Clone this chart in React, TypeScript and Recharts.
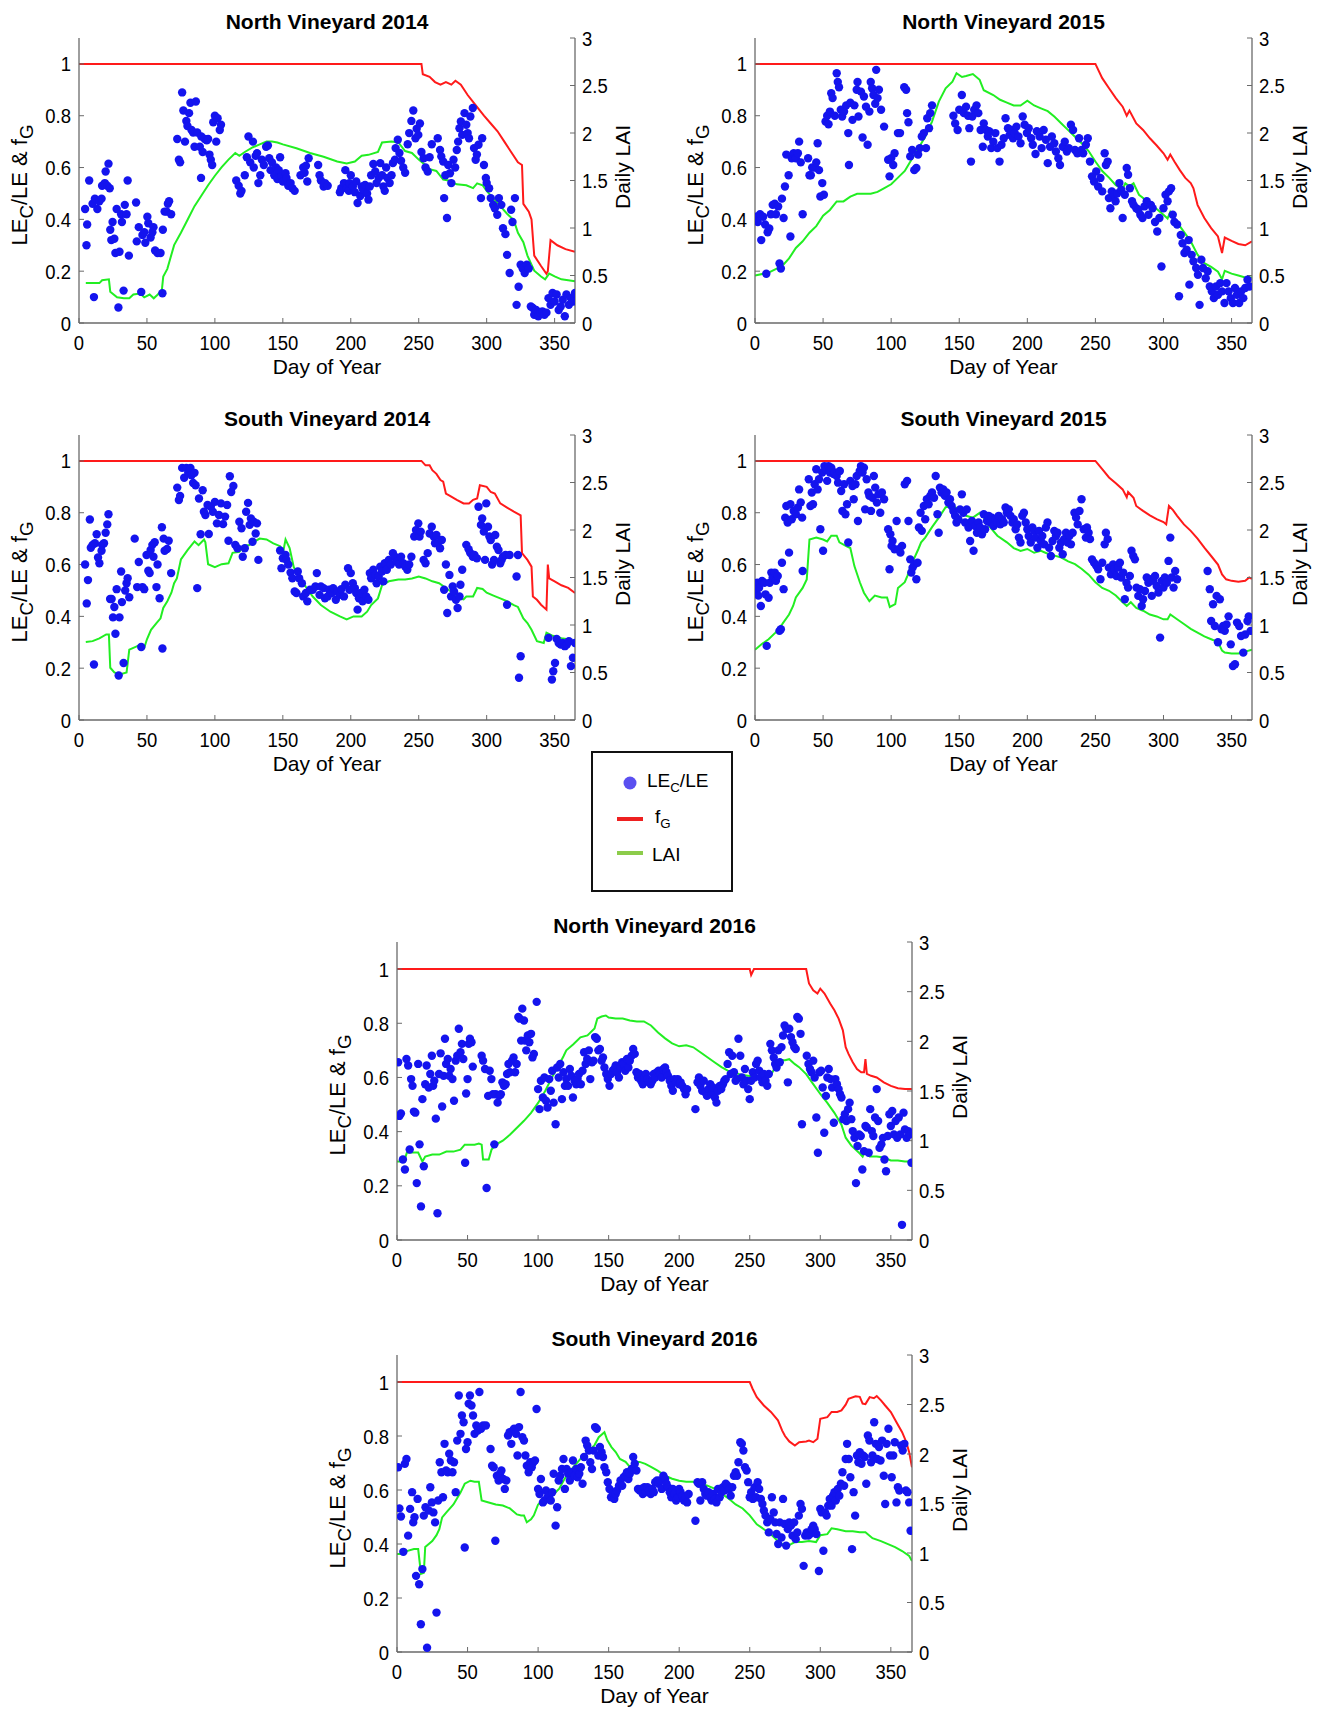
import React from 'react';
import { ComposedChart, Scatter, Line, XAxis, YAxis } from 'recharts';

type P = [number, number];

const dayTicks = [0, 50, 100, 150, 200, 250, 300, 350];
const leftTicks = [0, 0.2, 0.4, 0.6, 0.8, 1];
const rightTicks = [0, 0.5, 1, 1.5, 2, 2.5, 3];

// ---------------- North Vineyard 2014 ----------------
const nv14Ratio: P[] = [
  [4.5,.44],[6,.38],[5.5,.30],[7.5,.55],[10,.46],[11,.10],[11.7,.48],[13.5,.44],[15,.47],[16.6,.48],[17,.53],[19,.54],[19.6,.585],[20.8,.53],[21.7,.615],[22.6,.52],[23,.36],[24.7,.39],[23.8,.32],[26,.325],[26.8,.27],[27.7,.44],[29,.06],[29.8,.275],[31,.42],[31.6,.39],[32.8,.125],[33.7,.456],[35,.42],[35.8,.55],[36.7,.26],[42,.465],[42.5,.315],[44,.37],[45.8,.12],[46.7,.34],[48,.35],[48.8,.31],[50.3,.41],[51,.385],[52.7,.33],[54,.35],[54.8,.37],[56,.28],[57.8,.27],[60,.27],[61.4,.115],[61.7,.36],[63,.43],[64.5,.43],[65.4,.46],[66.3,.47],[67.8,.42],
  [72.3,.71],[73.5,.63],[74.4,.62],[75.9,.89],[76.8,.82],[78,.70],[79,.78],[79.8,.76],[81,.81],[82,.85],[82.8,.745],[84,.735],[85,.68],[86,.855],[87,.735],[88.9,.68],[89.8,.56],[90,.72],[91,.66],[92.5,.71],[94,.705],[95,.71],[96,.65],[97,.63],[98,.61],[98.8,.775],[100,.80],[101,.70],[102,.79],[103.6,.745],[104.5,.765],
  [115.7,.55],[117.5,.53],[118.7,.50],[119.6,.51],[122,.57],[123.5,.64],[124.7,.72],[126,.62],[128,.70],[128.6,.60],[130,.645],[131,.655],[132,.54],[133.4,.57],[134.6,.63],[136,.61],[137.7,.68],[139,.685],[140,.636],[141,.59],[142,.62],[143.7,.57],[145,.60],[146,.556],[147,.59],[148,.64],[149,.566],[150,.546],[152,.578],[152.7,.56],[154,.53],[155.7,.54],[157,.52],[158.7,.51],[163,.57],[165,.60],[166,.58],[167,.607],[168,.546],[169,.636],[176,.61],[177,.57],[178,.55],[180,.527],[181,.54],[183,.53],
  [192,.505],[193,.52],[195,.54],[196,.59],[197,.52],[198.5,.51],[199,.54],[200,.57],[201.5,.527],[203,.505],[204,.546],[205,.463],[207,.49],[208,.527],[209,.514],[210.5,.533],[212,.50],[213,.476],[214,.527],[215,.57],[216.6,.614],[218,.585],[219,.54],[220.5,.56],[221.7,.617],[223,.57],[224,.527],[225,.51],[226,.60],[227,.56],[228.6,.54],[230,.57],[231,.617],[232.5,.63],[233,.675],[234.6,.707],[235.8,.656],[237,.626],[238.6,.60],[240,.58],[241.9,.69],[243,.733],[244.6,.78],[246,.82],[247.6,.713],[248.5,.75],[249.7,.726],[250.9,.77],[252,.66],[253.6,.636],[255,.60],[256.6,.585],[258,.64],[259.6,.69],
  [264,.713],[265.7,.668],[266.6,.643],[268,.623],[268.7,.482],[269.6,.57],[270.8,.405],[271.7,.61],[273,.578],[274,.54],[275.6,.63],[276.8,.60],[278,.668],[279,.70],[280,.752],[281,.778],[282,.726],[283.7,.81],[285,.765],[286,.733],[287,.713],[288,.797],[289.8,.83],[290.7,.675],[291.9,.63],[292.8,.65],[294,.688],[295.8,.482],[296.7,.713],[298,.61],[299.4,.56],[300,.54],[301.8,.52],[303,.482],[304.8,.456],[306,.443],[307.8,.418],[309,.482],[310.8,.456],[312,.366],[313.8,.343],[315,.263],[316.9,.193],[318,.437],[319,.39],[320.8,.482],[322,.07],[323.5,.14],[325,.225],[326.5,.21],[328,.193],[329.5,.225],[331,.21],[332.5,.064],[334,.058],[335,.032],[336.4,.05],[338,.026],[339.5,.04],[341,.045],[342.5,.032],[344,.04],[345.5,.096],[347,.07],[348.5,.116],[350,.083],[351.5,.11],[353,.05],[354.5,.064],[356,.09],[357.5,.026],[358.7,.11],[360.5,.07],[362,.096],[363.5,.083],[365,.116]
];
const nv14Fg: P[] = [[0,1],[252,1],[253,.96],[258,.95],[262,.93],[266,.92],[270,.93],[274,.92],[277,.935],[281,.92],[286,.88],[292,.84],[298,.80],[303,.77],[308,.74],[313,.70],[318,.66],[323,.62],[326,.61],[327,.46],[331,.43],[333,.40],[335,.26],[340,.22],[344,.19],[345,.20],[347,.32],[352,.30],[358,.285],[365,.275]];
const nv14Lai: P[] = [[5,.42],[15,.42],[17,.45],[22,.46],[23,.33],[28,.27],[33,.26],[37,.26],[40,.30],[45,.31],[48,.27],[52,.30],[55,.26],[58,.30],[61,.35],[62,.49],[65,.57],[70,.82],[75,.95],[80,1.09],[85,1.23],[90,1.34],[95,1.45],[100,1.55],[105,1.64],[110,1.72],[115,1.79],[118,1.76],[122,1.80],[128,1.85],[133,1.88],[138,1.91],[142,1.91],[146,1.90],[150,1.88],[160,1.84],[170,1.79],[180,1.75],[190,1.70],[197,1.68],[203,1.70],[208,1.76],[213,1.77],[220,1.80],[223,1.90],[230,1.91],[235,1.90],[240,1.81],[245,1.79],[250,1.72],[255,1.66],[258,1.62],[263,1.60],[268,1.51],[272,1.50],[278,1.46],[285,1.45],[290,1.42],[293,1.47],[297,1.45],[300,1.39],[305,1.31],[310,1.23],[315,1.15],[320,1.08],[323,.95],[327,.85],[330,.71],[335,.55],[340,.49],[343,.46],[346,.52],[350,.49],[355,.46],[360,.45],[365,.44]];

// ---------------- North Vineyard 2015 ----------------
const nv15Ratio: P[] = [
  [0.6,.41],[2,.39],[3.7,.42],[4.6,.32],[6,.41],[7.4,.38],[8.3,.19],[9.3,.35],[10.5,.365],[11.7,.42],[13,.456],[14.5,.46],[15.4,.42],[17,.45],[18,.23],[19,.21],[19.8,.48],[21,.405],[22,.527],[23,.65],[24.7,.57],[26,.334],[27,.636],[28.4,.655],[30,.636],[31.5,.655],[32.4,.70],[33.6,.62],[35,.42],[39,.636],[40,.57],[41,.57],[42,.60],[43.8,.60],[45,.62],[46,.694],[47,.59],[48,.488],[49.4,.54],[50.6,.495],[51.8,.778],[53,.80],[54,.767],[55,.816],[56,.887],[57,.868],[58.6,.80],[60,.964],[60.8,.93],[61.7,.91],[63,.823],[64,.797],[65.4,.816],[67,.84],[68.5,.733],[69,.61],[70,.85],[71.6,.784],[73,.84],[74.7,.90],[75.3,.93],[76,.797],[77.8,.893],[79,.716],[80,.874],[81.5,.835],[82.7,.688],[84,.816],[85,.93],[86,.906],[87,.88],[88.3,.846],[89,.977],[90,.868],[91,.90],[92.6,.823],[94.8,.758],[97.8,.63],[98.8,.566],[100,.636],[101.5,.61],[102.5,.655],[105,.733],[106.5,.733],[109.6,.91],[111,.90],[111.7,.81],[112.7,.775],[114,.643],[115.4,.668],[117,.59],[118.5,.598],[119.8,.65],[121,.675],[122.5,.72],[124,.733],[125.6,.675],[126.5,.79],[127.8,.752],[128.7,.81],[130,.84],
  [145.7,.80],[147,.77],[148.8,.745],[150,.823],[151.9,.88],[153.4,.81],[155,.835],[156.5,.80],[157.4,.752],[158.6,.623],[159.6,.797],[161,.823],[162.7,.84],[164,.81],[165.7,.745],[167.3,.68],[168,.77],[169.7,.745],[171,.72],[172,.74],[173.5,.675],[175,.70],[176.5,.733],[178,.675],[179.6,.623],[181,.688],[182.7,.713],[184,.79],[185.8,.752],[187,.726],[188,.745],[189.5,.713],[190.7,.733],[192,.758],[193.5,.72],[195,.694],[196.6,.797],[198,.765],[199.7,.733],[201,.752],[202.8,.713],[204,.688],[206,.652],[207,.74],[209,.72],[210.5,.675],[212,.745],[213.6,.707],[215,.617],[216.7,.68],[218,.72],[219.8,.694],[221,.662],[222.8,.636],[224,.61],[226,.68],[227.5,.70],[229,.662],[230.5,.675],[232,.765],[233.6,.745],[235,.668],[236.7,.655],[238,.713],[239.8,.668],[241,.655],[243,.688],[244.4,.713],[246,.623],[247.5,.566],[249,.546],[250.6,.585],[252,.527],[253.7,.56],[255,.508],[256.8,.655],[257.7,.61],[259,.623],[259.9,.482],[261,.443],[262,.508],[263.6,.495],[264.8,.47],[266,.50],[267.6,.54],[269,.514],[270,.405],[271.6,.495],[273,.598],[274,.572],[275.3,.52],[276.9,.47],[278,.456],[280,.443],[281.5,.437],[283,.418],[284.6,.405],[286,.45],[287.7,.47],[289,.418],[290.7,.456],[292,.443],[293.8,.39],[295.4,.353],[297,.405],[298.5,.218],[300,.443],[301.5,.495],[303,.47],[304,.508],[305.6,.52],[306.8,.418],[308,.39],[310,.38],[311.4,.103],[312.7,.34],[314,.308],[315.4,.27],[317,.283],[318.5,.32],[319,.148],[320.7,.263],[322,.238],[324,.212],[325.3,.186],[326.5,.07],[327.8,.244],[329,.212],[331,.173],[332.4,.20],[334,.141],[335.5,.122],[337,.096],[338.6,.141],[340,.109],[341.7,.154],[343,.122],[344.8,.077],[346.3,.154],[347.8,.122],[349.4,.096],[351,.077],[352.5,.135],[354,.109],[355.6,.077],[357,.122],[358.6,.096],[360,.135],[361.7,.167],[363.3,.141]
];
const nv15Fg: P[] = [[0,1],[250,1],[255,.945],[260,.906],[265,.868],[270,.835],[273,.80],[275,.82],[280,.77],[285,.745],[290,.713],[295,.685],[300,.655],[303,.63],[305,.65],[308,.623],[312,.59],[316,.56],[320,.54],[322,.52],[325,.456],[330,.405],[335,.366],[340,.334],[343,.27],[345,.33],[350,.317],[355,.305],[360,.30],[365,.315]];
const nv15Lai: P[] = [[0,.50],[10,.53],[20,.60],[25,.68],[30,.79],[35,.86],[40,.95],[45,1.02],[50,1.13],[55,1.19],[60,1.28],[65,1.28],[70,1.33],[75,1.36],[80,1.36],[85,1.36],[90,1.38],[95,1.42],[100,1.46],[105,1.53],[110,1.60],[115,1.72],[120,1.84],[125,1.96],[130,2.12],[135,2.33],[140,2.47],[145,2.54],[148,2.63],[152,2.59],[155,2.60],[160,2.62],[165,2.56],[168,2.45],[175,2.40],[180,2.35],[185,2.32],[190,2.29],[195,2.29],[200,2.34],[205,2.29],[210,2.26],[215,2.23],[220,2.17],[225,2.10],[230,2.03],[235,1.96],[240,1.89],[245,1.81],[250,1.70],[255,1.60],[260,1.53],[265,1.45],[270,1.41],[272,1.47],[275,1.44],[278,1.47],[282,1.35],[290,1.26],[300,1.14],[303,1.10],[305,1.17],[310,1.06],[315,.96],[320,.86],[325,.72],[330,.63],[335,.59],[340,.54],[343,.46],[345,.55],[350,.52],[355,.50],[360,.48],[365,.48]];

// ---------------- South Vineyard 2014 ----------------
const sv14Ratio: P[] = [
  [4.5,.60],[5.7,.45],[6.6,.54],[8,.774],[8.7,.665],[10,.676],[11,.214],[11.7,.682],[13,.717],[14,.627],[15,.605],[16.6,.653],[17,.676],[18.4,.682],[19.6,.723],[20.8,.755],[21.7,.794],[22.9,.467],[24,.467],[25,.396],[26,.436],[26.8,.333],[27.7,.505],[29.2,.172],[29.8,.396],[31,.573],[31.6,.455],[32.8,.22],[34,.50],[35,.528],[35.8,.547],[37,.474],[41,.70],[42.8,.513],[44,.61],[45.8,.282],[46.7,.513],[48,.505],[49.7,.637],[51,.576],[52,.567],[52.7,.656],[54,.676],[54.8,.63],[55.7,.686],[57,.513],[57.8,.60],[59.3,.47],[61,.744],[61.4,.276],[62.3,.70],[63,.653],[64.8,.66],[66,.692],[67.8,.567],
  [72.3,.897],[73.5,.849],[74.4,.865],[75.9,.973],[77.4,.935],[79,.973],[80.4,.954],[82,.973],[82.8,.945],[84,.915],[85,.954],[85.8,.906],[87,.509],[88.3,.855],[89.5,.717],[91,.887],[91.9,.804],[93,.791],[94.6,.83],[95.5,.718],[97,.823],[98.5,.804],[100,.842],[101.5,.759],[103,.791],[104.5,.836],[106,.756],[107.5,.785],[109,.83],[110,.692],[111,.941],[112,.88],[113.6,.903],[115,.676],[116.6,.663],[118,.765],[119.6,.74],[120.5,.63],[122,.663],[123,.804],[124.4,.838],[125.6,.753],[126.5,.778],[127.7,.688],[128.6,.765],[130,.72],[131,.759],[132,.618],
  [148,.654],[149,.586],[150,.624],[152,.637],[152.7,.618],[154,.60],[155.7,.569],[157,.547],[158.7,.496],[160,.49],[161,.573],[162,.547],[164,.528],[165,.477],[167,.49],[168,.458],[170,.503],[172,.503],[174,.515],[175,.567],[177,.483],[178,.515],[180,.509],[181,.47],[183,.477],[184,.503],[186,.49],[187,.509],[189,.464],[190,.496],[192,.483],[193,.505],[195,.477],[196,.522],[198,.586],[199,.503],[200,.567],[201.5,.528],[203,.509],[204,.49],[205,.426],[206,.47],[207.5,.49],[208.7,.458],[210,.503],[211.4,.477],[213,.464],[214,.567],[215,.547],[216.6,.58],[218,.56],[219,.528],[220.5,.554],[221.7,.592],[223,.573],[224,.535],[225,.605],[226.5,.58],[228,.618],[229.5,.60],[231,.644],[232.5,.63],[234,.612],[235.5,.60],[237,.63],[238.6,.605],[240,.592],[241.6,.58],[243,.60],[244.6,.63],[246.7,.708],[248,.733],[249.7,.759],[250.6,.708],[251.5,.727],[253.6,.618],[255,.605],[256.6,.644],[258,.72],[259.6,.746],[261,.708],[262,.682],[263,.714],[264,.682],[265.7,.663],[267,.695],
  [268.7,.503],[270,.60],[271,.413],[272.6,.56],[273.8,.477],[275,.515],[276,.496],[277.4,.464],[278.6,.432],[280,.477],[280.7,.522],[282,.58],[285,.676],[286.7,.659],[288,.644],[289.8,.63],[291,.637],[292.8,.624],[294,.823],[295.8,.753],[296.7,.778],[297.9,.727],[298.8,.618],[299.7,.836],[301,.746],[302,.708],[303,.695],[304,.60],[305.4,.618],[306.3,.714],[307.5,.669],[308.7,.656],[310,.605],[311,.618],[312,.63],[313.9,.637],[315,.445],[316.9,.637],[322,.554],[323,.637],[323.8,.163],[325,.246],[345.5,.317],[348,.156],[349,.188],[350.3,.22],[351.5,.313],[353,.297],[354.5,.291],[356,.297],[357.5,.285],[359,.291],[360.5,.304],[362,.208],[363.5,.24],[365,.297]
];
const sv14Fg: P[] = [[0,1],[252,1],[255,.983],[258,.983],[260,.964],[263,.95],[266,.926],[268,.92],[270,.874],[273,.865],[278,.85],[283,.836],[287,.836],[290,.85],[293,.855],[295,.906],[300,.90],[303,.88],[306,.874],[310,.836],[315,.82],[320,.804],[325,.79],[326,.644],[330,.618],[333,.592],[334,.477],[337,.464],[340,.445],[344,.426],[345,.60],[346,.547],[350,.535],[355,.52],[360,.51],[365,.49]];
const sv14Lai: P[] = [[5,.82],[10,.83],[15,.86],[20,.90],[22,.90],[23,.55],[26,.50],[30,.48],[35,.50],[37,.74],[40,.76],[45,.79],[48,.76],[50,.85],[53,.95],[57,1.02],[60,1.07],[62,1.18],[65,1.25],[68,1.34],[70,1.44],[72,1.49],[75,1.69],[80,1.79],[85,1.88],[88,1.84],[92,1.90],[93,1.87],[95,1.64],[100,1.61],[105,1.64],[110,1.65],[113,1.76],[118,1.77],[122,1.84],[125,1.84],[128,1.87],[133,1.91],[138,1.90],[143,1.86],[148,1.83],[150,1.75],[152,1.90],[155,1.81],[158,1.61],[162,1.51],[167,1.40],[172,1.30],[178,1.21],[185,1.14],[192,1.09],[197,1.06],[202,1.09],[208,1.09],[212,1.14],[215,1.21],[220,1.28],[223,1.42],[228,1.46],[235,1.48],[240,1.48],[245,1.49],[250,1.51],[255,1.49],[260,1.46],[265,1.44],[270,1.39],[275,1.34],[280,1.28],[283,1.27],[285,1.30],[290,1.30],[293,1.39],[297,1.38],[300,1.34],[305,1.31],[310,1.28],[315,1.25],[320,1.21],[323,1.19],[327,1.07],[330,1.02],[333,.95],[337,.83],[342,.81],[344,.92],[348,.89],[355,.86],[360,.85],[365,.83]];

// ---------------- South Vineyard 2015 ----------------
const sv15Ratio: P[] = [
  [0.6,.50],[1.5,.53],[2.5,.48],[3,.51],[4.3,.44],[5.2,.537],[6.8,.53],[7.7,.485],[8.6,.286],[10,.472],[10.8,.53],[12,.569],[13,.55],[14.5,.569],[15.4,.537],[16.7,.556],[18,.344],[19,.35],[19.8,.607],[21,.505],[22.2,.781],[23,.826],[24,.762],[25,.646],[26,.833],[27,.775],[28.4,.807],[30,.794],[31.5,.82],[32.4,.89],[33.6,.84],[34.6,.781],[35,.575],[39.5,.929],[40.7,.826],[41.7,.878],[42.6,.833],[43.8,.91],[45,.968],[46,.89],[47,.929],[48,.736],[49.4,.955],[50,.653],[51,.98],[51.9,.968],[53,.923],[54,.98],[55,.955],[56,.974],[57.7,.949],[58.6,.955],[60,.942],[61,.916],[62.3,.961],[63.3,.884],[64.2,.807],[65.4,.91],[66.4,.794],[67.6,.833],[68.5,.685],[70,.923],[71.6,.903],[72.5,.852],[73.8,.91],[74.7,.942],[75.6,.768],[76.9,.961],[77.8,.98],[79,.955],[80,.974],[80.9,.813],[82,.929],[83.3,.878],[84,.865],[85.2,.807],[86.4,.858],[87.3,.942],[88.3,.897],[89.5,.839],[90.7,.871],[92,.80],[93.2,.878],[94.8,.852],[97.8,.736],[98.8,.582],[99.4,.717],[100.3,.672],[101,.691],[102.5,.659],[104,.768],[105.6,.659],[106.8,.646],[108,.672],[110,.91],[111.7,.923],[112.7,.768],[114,.62],[114.8,.569],[115.7,.588],[117,.60],[118.5,.543],[119.4,.607],[120.4,.743],[121.6,.80],[122.5,.73],[124,.826],[125,.775],[126.2,.852],[127.5,.833],[128.7,.865],[130,.878],[131.5,.858],[132.7,.942],[134,.794],[134.9,.723],[135.8,.897],[137,.878],[138.3,.89],[139.5,.865],[140.7,.878],[142,.839],[143.2,.852],[144.4,.826],[145.7,.807],[147,.788],[148,.762],[149.4,.775],[150.6,.813],[151.9,.871],[153,.80],[154.3,.762],[155.5,.813],[156.8,.743],[158,.691],[159.3,.768],[160.5,.653],[161.7,.749],[163,.723],[164.2,.762],[165.4,.743],[166.7,.717],[168,.794],[169,.736],[170.4,.768],[171.6,.788],[172.8,.762],[174,.781],[175.3,.749],[176.5,.775],[177.8,.762],[179,.788],[180.2,.755],[181.5,.775],[182.7,.762],[184,.82],[185,.80],[186.4,.813],[187.6,.788],[189,.762],[190,.775],[191.4,.736],[192.6,.755],[193.8,.704],[195,.685],[196.3,.788],[197.5,.80],[198.8,.762],[200,.736],[201,.71],[202.5,.685],[203.7,.743],[205,.73],[206,.704],[207.4,.665],[208.6,.73],[209.9,.691],[211,.71],[212.3,.678],[213.6,.743],[214.8,.762],[216,.665],[217.3,.633],[218.5,.691],[219.8,.73],[221,.71],[222.2,.723],[223.5,.665],[224.7,.685],[226,.64],[227,.698],[228.4,.723],[229.6,.685],[230.9,.71],[232,.678],[233.3,.723],[234.6,.80],[235.8,.781],[237,.755],[238.3,.807],[239.8,.852],[241.4,.736],[243,.704],[243.8,.743],[245,.723],[246,.698],[247.5,.62],[249,.607],[250.6,.595],[252,.582],[253.7,.543],[255,.607],[256.8,.678],[257.7,.723],[259,.698],[259.9,.588],[261.4,.562],[263,.60],[264,.582],[265.4,.556],[266.7,.588],[268,.607],[269,.55],[270.4,.569],[271.6,.466],[272.8,.53],[274,.511],[275.3,.556],[276.5,.653],[277.8,.633],[279,.62],[280.2,.511],[281.5,.479],[282.7,.505],[284,.44],[285,.466],[286.4,.498],[287.7,.55],[288.9,.53],[290,.543],[291.4,.479],[292.6,.537],[293.8,.556],[295,.517],[296.3,.492],[297.5,.318],[298.8,.537],[300,.511],[301,.55],[302.5,.53],[303.7,.614],[305,.704],[306,.55],[307.4,.511],[308.6,.575],[310,.543],
  [332.4,.575],[334,.505],[335,.382],[336.4,.447],[337.7,.363],[339,.479],[340,.30],[341.4,.466],[342.6,.35],[343.8,.363],[345,.344],[346.3,.369],[347.8,.40],[349.4,.292],[351,.208],[352.5,.215],[354,.376],[355.6,.363],[357,.324],[358.6,.26],[360,.33],[361.7,.382],[362.6,.40],[364,.344]
];
const sv15Fg: P[] = [[0,1],[250,1],[255,.968],[260,.936],[265,.914],[270,.89],[273,.86],[274,.88],[278,.858],[280,.826],[285,.807],[290,.79],[295,.775],[300,.764],[302,.755],[304,.826],[307,.81],[310,.788],[315,.755],[320,.73],[325,.70],[330,.665],[335,.633],[340,.60],[343,.562],[346,.543],[350,.537],[355,.534],[360,.537],[363,.55],[365,.545]];
const sv15Lai: P[] = [[0,.74],[5,.80],[10,.85],[15,.92],[20,1.01],[25,1.11],[28,1.20],[30,1.29],[35,1.39],[38,1.48],[40,1.90],[45,1.92],[50,1.90],[53,1.88],[56,1.94],[60,1.94],[62,1.87],[67,1.83],[70,1.81],[73,1.62],[77,1.45],[80,1.34],[84,1.25],[88,1.31],[93,1.29],[97,1.29],[99,1.19],[103,1.22],[105,1.39],[110,1.45],[112,1.52],[115,1.64],[120,1.80],[122,1.87],[125,1.92],[130,2.03],[135,2.13],[140,2.24],[145,2.25],[150,2.22],[155,2.15],[160,2.13],[165,2.18],[168,2.13],[172,2.04],[178,1.94],[185,1.87],[190,1.81],[195,1.78],[200,1.80],[205,1.76],[210,1.78],[215,1.75],[220,1.73],[225,1.71],[230,1.67],[235,1.64],[240,1.59],[245,1.53],[250,1.45],[255,1.39],[260,1.36],[265,1.31],[270,1.24],[273,1.20],[276,1.24],[280,1.18],[285,1.15],[290,1.11],[295,1.09],[300,1.06],[303,1.06],[305,1.11],[310,1.06],[315,1.01],[320,.96],[325,.92],[330,.88],[335,.85],[340,.82],[343,.73],[345,.71],[350,.70],[355,.70],[360,.72],[365,.74]];

// ---------------- North Vineyard 2016 ----------------
const nv16Ratio: P[] = [
  [0.8,.656],[1.7,.458],[2.8,.467],[4.2,.297],[5.6,.26],[6.7,.668],[7.9,.644],[9,.334],[10,.594],[11,.569],[12,.474],[13,.47],[14,.21],[15,.65],[16,.353],[17,.124],[18,.52],[19,.272],[20,.575],[21,.644],[22.5,.563],[23.6,.613],[24.7,.68],[25.6,.569],[26.4,.588],[27.5,.448],[28.7,.099],[29.8,.613],[30.9,.689],[32,.493],[33,.606],[34,.743],[34.8,.65],[36,.668],[37,.606],[38,.631],[39.3,.594],[40.4,.514],[41.6,.662],[42.7,.68],[43.8,.78],[45,.693],[46,.724],[47,.668],[48.3,.285],[49,.541],[50,.594],[50.8,.724],[51.7,.743],[52.8,.73],[53.7,.64],[60,.68],[61,.662],[62.4,.631],[63.5,.192],[64.6,.532],[65.7,.625],[66.9,.594],[68,.538],[69,.353],[70,.538],[71.3,.507],[72.5,.532],[73.6,.538],[74.7,.582],[75.8,.569],[77,.575],[78,.613],[79,.65],[80,.619],[81.5,.662],[82.6,.674],[83.7,.619],[84.8,.65],[86,.823],[87,.817],[88,.736],[88.8,.854],[90,.81],[90.7,.736],[91.6,.70],[92.7,.755],[93.8,.73],[95,.761],[96,.674],[97,.687],[99,.879],
  [100,.557],[101,.483],[102,.588],[103.4,.526],[104.5,.60],[105.6,.514],[106.7,.489],[107.9,.594],[109,.551],[110,.625],[111,.507],[112.4,.427],[113.5,.637],[114.6,.60],[115.7,.65],[116.9,.52],[118,.619],[119,.569],[120,.594],[121.3,.569],[122.5,.631],[123.6,.606],[124.7,.526],[125.8,.588],[127,.575],[128,.594],[129,.613],[130.3,.575],[131.5,.625],[132.6,.693],[133.7,.65],[134.8,.668],[136,.70],[137,.594],[138.2,.656],[139.3,.662],[140.4,.749],[141.6,.743],[142.7,.70],[143.8,.705],[145,.662],[146,.674],[147,.637],[148.3,.613],[149.4,.594],[150.6,.569],[151.7,.613],[152.8,.625],[154,.631],[155,.644],[156,.619],[157.3,.60],[158.4,.637],[159.6,.656],[160.7,.65],[161.8,.625],[163,.668],[164,.637],[165,.662],[166.3,.68],[167.4,.705],[168.5,.687],[169.7,.619],[170.8,.60],[172,.613],[173,.588],[174.2,.575],[175.3,.60],[176.4,.613],[177.5,.594],[178.7,.582],[179.8,.575],[181,.588],[182,.613],[183,.60],[184.3,.619],[185.4,.625],[186.5,.613],[187.6,.60],[188.8,.631],[190,.637],[191,.619],[192,.606],[193.3,.588],[194.4,.569],[195.5,.551],[196.6,.594],[197.8,.582],[199,.594],[200,.575],[201,.582],[202.2,.569],[203.4,.557],[204.5,.538],[205.6,.557],
  [211.5,.483],[213,.582],[214,.60],[215,.569],[216.3,.551],[217.4,.588],[218.5,.545],[219.7,.532],[220.8,.557],[222,.575],[223,.538],[224,.563],[225.3,.526],[226.4,.507],[227.5,.551],[228.7,.569],[229.8,.557],[231,.575],[232,.588],[233,.594],[234.3,.65],[235.4,.693],[236.5,.613],[237.6,.68],[238.8,.619],[240,.588],[241,.594],[242,.743],[243.3,.68],[244.4,.60],[245.5,.575],[246.6,.631],[247.8,.588],[248.9,.557],[250,.52],[251,.588],[252.2,.619],[253.4,.60],[254.5,.65],[255.6,.662],[256.7,.625],[257.9,.60],[259,.582],[260,.613],[261.2,.588],[262.4,.569],[263.5,.613],[264.6,.724],[265.7,.70],[267,.674],[268,.65],[269,.637],[270.2,.70],[271.3,.656],[272.5,.712],[273.6,.755],[274.7,.792],[275.8,.78],[277,.582],[278,.78],[279.2,.749],[280.3,.73],[281.5,.712],[282.6,.705],[283.7,.823],[284.8,.817],[286,.761],[287,.427],
  [290.4,.68],[291.6,.65],[292.7,.631],[293.8,.619],[295,.662],[296,.60],[297.2,.452],[298.3,.322],[299.4,.619],[300.6,.625],[301.7,.563],[302.8,.396],[304,.532],[305,.60],[306,.631],[307.3,.594],[308.4,.563],[309.6,.433],[310.7,.594],[311.8,.575],[313,.557],[314,.538],[315,.526],[316.3,.446],[317.4,.464],[318.5,.439],[319.7,.483],[320.8,.507],[322,.446],[323,.402],[324.2,.377],[325.3,.21],[326.4,.347],[327.5,.39],[328.7,.384],[329.8,.26],[331,.328],[332,.421],[333,.415],[334.3,.322],[335.4,.483],[336.5,.402],[337.6,.384],[338.8,.452],[340,.557],[341,.439],[342,.34],[343.3,.353],[344.4,.377],[345.5,.297],[346.6,.254],[347.8,.384],[349,.464],[350,.421],[351,.476],[352.2,.39],[353.4,.439],[354.5,.377],[355.6,.452],[356.7,.39],[357.9,.056],[359,.47],[360,.408],[361.2,.377],[362.4,.402],[363.5,.39],[364.6,.285]
];
const nv16Fg: P[] = [[0,1],[250,1],[251,.978],[253,1],[290,1],[292,.947],[295,.922],[298,.91],[300,.928],[303,.91],[307,.873],[310,.848],[313,.817],[316,.774],[318,.712],[320,.687],[323,.656],[326,.631],[329,.619],[331,.619],[332,.668],[333,.613],[336,.606],[340,.60],[345,.582],[350,.569],[355,.56],[360,.557],[365,.557]];
const nv16Lai: P[] = [[0,.79],[5,.79],[7,.88],[12,.88],[15,.88],[18,.79],[20,.84],[25,.86],[30,.86],[35,.89],[40,.89],[45,.91],[48,.96],[52,.96],[55,.96],[58,.97],[60,.96],[61,.81],[65,.81],[67,.91],[70,.96],[75,1.00],[80,1.06],[85,1.13],[90,1.20],[95,1.28],[100,1.38],[105,1.50],[110,1.64],[115,1.77],[118,1.85],[120,1.91],[125,1.97],[130,2.04],[135,2.06],[140,2.13],[142,2.23],[145,2.25],[148,2.26],[150,2.24],[155,2.23],[160,2.23],[165,2.21],[170,2.20],[175,2.20],[180,2.16],[185,2.09],[190,2.03],[195,1.98],[200,1.95],[205,1.96],[210,1.94],[215,1.89],[220,1.84],[225,1.79],[230,1.74],[235,1.70],[240,1.68],[245,1.66],[250,1.65],[255,1.64],[260,1.65],[265,1.66],[268,1.74],[270,1.81],[275,1.81],[278,1.82],[282,1.77],[285,1.74],[290,1.67],[295,1.57],[300,1.47],[305,1.38],[310,1.28],[315,1.16],[318,1.03],[322,.95],[325,.91],[328,.87],[330,.84],[332,.91],[335,.84],[340,.84],[345,.83],[350,.80],[355,.80],[360,.79],[365,.79]];

// ---------------- South Vineyard 2016 ----------------
const sv16Ratio: P[] = [
  [0.8,.684],[1.7,.532],[2.8,.502],[4.5,.371],[5.6,.697],[6.7,.715],[7.9,.431],[9.3,.53],[10.7,.592],[11.5,.48],[12.4,.499],[13.5,.282],[14.6,.567],[15.7,.251],[16.9,.103],[18,.307],[19,.505],[20.2,.536],[21.3,.016],[22.5,.524],[23.6,.61],[24.7,.554],[25.8,.517],[27,.48],[28,.146],[29.2,.561],[30.3,.703],[31.5,.666],[32.6,.573],[33.7,.771],[34.8,.672],[36,.666],[37,.734],[38.2,.709],[39.3,.666],[40.4,.703],[41.6,.592],[42.7,.783],[43.8,.95],[45,.808],[46,.876],[47.2,.851],[48,.387],[48.9,.752],[50,.777],[50.8,.92],[51.7,.95],[52.8,.913],[53.9,.876],[55,.808],[56.2,.839],[57.3,.82],[58.4,.963],[59.6,.827],[61,.839],[63,.839],[66.3,.752],[67.4,.69],[68.5,.684],[69.7,.412],[70.8,.653],[72,.635],[73,.66],[74,.672],[75.3,.641],[76.4,.604],[77.5,.635],[78.7,.802],[79.8,.814],[81,.771],[82,.82],[83,.827],[84.3,.808],[85.4,.728],[86.5,.833],[87.6,.963],[88.8,.796],[90,.783],[91,.728],[92,.69],[93.3,.666],[94.4,.703],[95.5,.684],[96.6,.703],[97.8,.709],[98.9,.90],
  [100,.604],[101,.585],[102,.641],[103.4,.554],[104.5,.561],[105.6,.598],[106.7,.573],[107.9,.579],[109,.561],[110,.592],[111,.66],[112.4,.468],[113.5,.536],[114.6,.635],[115.7,.653],[116.9,.678],[118,.715],[119,.604],[120.2,.678],[121.3,.66],[122.5,.635],[123.6,.666],[124.7,.709],[125.8,.653],[127,.678],[128,.647],[129.2,.66],[130.3,.684],[131.5,.623],[132.6,.722],[133.7,.783],[134.8,.765],[136,.746],[137,.703],[138.2,.678],[139.3,.746],[140.4,.833],[141.6,.827],[142.7,.728],[143.8,.759],[145,.74],[146,.722],[147,.684],[148.3,.666],[149.4,.629],[150.6,.604],[151.7,.573],[152.8,.592],[154,.567],[155,.585],[156,.598],[157.3,.616],[158.4,.635],[159.6,.616],[160.7,.647],[161.8,.653],[163,.666],[164,.641],[165,.66],[166.3,.678],[167.4,.722],[168.5,.697],[169.7,.672],[170.8,.604],[172,.598],[173,.604],[174.2,.585],[175.3,.61],[176.4,.592],[177.5,.61],[178.7,.598],[179.8,.585],[181,.604],[182,.592],[183,.629],[184.3,.635],[185.4,.623],[186.5,.635],[187.6,.604],[188.8,.653],[190,.641],[191,.623],[192,.61],[193.3,.592],[194.4,.573],[195.5,.604],[196.6,.585],[197.8,.561],[199,.573],[200,.604],[201,.592],[202.2,.579],[203.4,.561],[204.5,.573],[205.6,.554],[206.7,.585],
  [211.5,.486],[213,.629],[214,.623],[215,.561],[216.3,.629],[217.4,.604],[218.5,.585],[219.7,.579],[220.8,.592],[222,.573],[223,.561],[224,.585],[225.3,.567],[226.4,.554],[227.5,.604],[228.7,.573],[229.8,.592],[231,.61],[232,.598],[233,.623],[234.3,.616],[235.4,.604],[236.5,.579],[237.6,.61],[238.8,.653],[240,.666],[241,.653],[242,.703],[243.3,.777],[244.4,.771],[245.5,.746],[246.6,.684],[247.8,.672],[248.9,.629],[250,.573],[251,.592],[252.2,.567],[253.4,.61],[254.5,.573],[255.6,.629],[256.7,.604],[257.9,.567],[259,.548],[260,.524],[261.2,.505],[262.4,.48],[263.5,.443],[264.6,.493],[265.7,.573],[267,.517],[268,.48],[269,.437],[270.2,.40],[271.3,.48],[272.5,.424],[273.6,.567],[274.7,.474],[275.8,.394],[277,.455],[278,.48],[279.2,.468],[280.3,.431],[281.5,.48],[282.6,.418],[283.7,.443],[284.8,.505],[286,.548],[287,.53],[288.2,.319],[289.3,.431],[290.4,.443],[291.6,.431],[292.7,.437],[293.8,.455],[295,.468],[296,.455],[297.2,.437],[299,.30],[300,.53],[301,.517],[302.2,.375],[303.4,.517],[304.5,.505],[305.6,.542],[306.7,.567],[308,.542],[309,.579],[310,.592],[311,.561],[312.4,.604],[313.5,.579],[314.6,.623],[315.7,.666],[316.9,.616],[318,.715],[319,.771],[320.2,.715],[321.3,.647],[322.5,.381],[323.6,.592],[324.7,.505],[326,.728],[327,.703],[328,.74],[329.2,.697],[330.3,.728],[331.5,.722],[332.6,.623],[333.7,.802],[334.8,.783],[336,.703],[337,.728],[338.2,.851],[339.3,.771],[340.4,.715],[341.6,.759],[342.7,.709],[343.8,.783],[345,.653],[346,.548],[347,.771],[348.3,.827],[349.4,.728],[350.6,.647],[351.7,.728],[352.8,.777],[354,.554],[355,.61],[356,.598],[357.3,.765],[358.4,.746],[359.6,.771],[360.7,.598],[361.8,.592],[363,.554],[364,.449]
];
const sv16Fg: P[] = [[0,1],[250,1],[252,.975],[255,.944],[260,.913],[265,.889],[270,.858],[273,.82],[275,.80],[278,.78],[282,.765],[285,.777],[290,.78],[292,.783],[295,.777],[298,.79],[300,.864],[305,.87],[308,.889],[312,.889],[315,.895],[318,.916],[320,.938],[325,.947],[328,.945],[330,.92],[332,.918],[335,.944],[338,.94],[340,.948],[343,.932],[346,.913],[350,.889],[354,.851],[358,.814],[361,.777],[363,.74],[365,.684]];
const sv16Lai: P[] = [[0,.99],[5,.99],[7,1.02],[12,1.04],[15,1.04],[17,.79],[19,.80],[20,1.06],[25,1.12],[28,1.18],[30,1.24],[32,1.36],[35,1.41],[40,1.49],[45,1.61],[48,1.70],[52,1.73],[55,1.72],[58,1.72],[60,1.53],[65,1.51],[70,1.49],[75,1.48],[80,1.45],[85,1.39],[88,1.38],[90,1.38],[92,1.31],[95,1.34],[97,1.38],[100,1.49],[105,1.55],[110,1.58],[115,1.65],[118,1.73],[122,1.82],[127,1.90],[130,1.95],[135,2.02],[140,2.09],[143,2.17],[147,2.22],[149,2.14],[152,2.07],[155,2.02],[158,1.95],[162,1.92],[165,1.87],[168,1.83],[170,1.92],[172,1.92],[176,1.90],[180,1.87],[185,1.83],[190,1.78],[195,1.75],[200,1.73],[205,1.72],[210,1.72],[215,1.70],[220,1.68],[225,1.65],[230,1.60],[235,1.55],[240,1.49],[245,1.45],[250,1.38],[255,1.29],[260,1.24],[265,1.19],[270,1.12],[273,1.09],[278,1.08],[282,1.11],[287,1.11],[292,1.12],[297,1.11],[300,1.18],[305,1.19],[308,1.25],[312,1.24],[318,1.22],[323,1.22],[328,1.21],[332,1.21],[337,1.15],[343,1.12],[348,1.09],[353,1.06],[358,1.02],[363,.97],[365,.92]];

// ---------------- layout ----------------
const FONT = '"Liberation Sans", Arial, Helvetica, sans-serif';
const AXIS_COLOR = '#6a6a6a';
const DOT_COLOR = '#1414ee';
const RED = '#ff1a1a';
const GREEN = '#22ee22';

type Cfg = { title: string; left: number; top: number; w: number; h: number; pts: P[]; fg: P[]; lai: P[] };

const panels: Cfg[] = [
  { title: 'North Vineyard 2014', left: 79, top: 38, w: 496, h: 285, pts: nv14Ratio, fg: nv14Fg, lai: nv14Lai },
  { title: 'North Vineyard 2015', left: 755, top: 38, w: 497, h: 285, pts: nv15Ratio, fg: nv15Fg, lai: nv15Lai },
  { title: 'South Vineyard 2014', left: 79, top: 435, w: 496, h: 285, pts: sv14Ratio, fg: sv14Fg, lai: sv14Lai },
  { title: 'South Vineyard 2015', left: 755, top: 435, w: 497, h: 285, pts: sv15Ratio, fg: sv15Fg, lai: sv15Lai },
  { title: 'North Vineyard 2016', left: 397, top: 942, w: 515, h: 298, pts: nv16Ratio, fg: nv16Fg, lai: nv16Lai },
  { title: 'South Vineyard 2016', left: 397, top: 1355, w: 515, h: 297, pts: sv16Ratio, fg: sv16Fg, lai: sv16Lai },
];

const toXY = (a: P[]) => a.map(([x, y]) => ({ x, y }));

const SQ = 0.88;
const TICK_FS = 21;

const BottomTick = (props: any) => {
  const { x, y, payload } = props;
  return (
    <g transform={`translate(${x},${y})`}>
      <text transform={`scale(${SQ},1)`} x={0} y={19.5} textAnchor="middle" fontSize={TICK_FS} fontFamily={FONT} fill="#000">{payload.value}</text>
    </g>
  );
};
const LeftTick = (props: any) => {
  const { x, y, payload } = props;
  return (
    <g transform={`translate(${x},${y})`}>
      <text transform={`scale(${SQ},1)`} x={0} y={7.5} textAnchor="end" fontSize={TICK_FS} fontFamily={FONT} fill="#000">{payload.value}</text>
    </g>
  );
};
const RightTick = (props: any) => {
  const { x, y, payload } = props;
  return (
    <g transform={`translate(${x},${y})`}>
      <text transform={`scale(${SQ},1)`} x={0} y={7.5} textAnchor="start" fontSize={TICK_FS} fontFamily={FONT} fill="#000">{payload.value}</text>
    </g>
  );
};
const NoTick = () => <g />;
const Dot = (p: any) => <circle cx={p.cx} cy={p.cy} r={4.2} fill={DOT_COLOR} />;

const ML = 70, MR = 60, MT = 16, MB = 50;

function Panel({ cfg }: { cfg: Cfg }) {
  const { left, top, w, h } = cfg;
  const W = w + ML + MR;
  const H = h + MT + MB;
  const axisLine = { stroke: AXIS_COLOR, strokeWidth: 1.3 };
  const tickLine = { stroke: AXIS_COLOR, strokeWidth: 1 };
  const sub = { fontSize: '0.85em' };
  return (
    <>
      <div style={{ position: 'absolute', left: left - ML, top: top - MT, width: W, height: H }}>
        <ComposedChart width={W} height={H} margin={{ top: MT, right: 0, bottom: 0, left: 0 }}>
          <XAxis xAxisId="b" dataKey="x" type="number" domain={[0, 365]} ticks={dayTicks} interval={0} allowDataOverflow orientation="bottom" height={MB} axisLine={axisLine} tickLine={tickLine} tickSize={-5} tickMargin={13} tick={<BottomTick />} />
          <XAxis xAxisId="t" dataKey="x" type="number" domain={[0, 365]} ticks={dayTicks} interval={0} allowDataOverflow orientation="top" height={0} axisLine={axisLine} tickLine={tickLine} tickSize={-5} tick={NoTick} />
          <YAxis yAxisId="l" type="number" domain={[0, 1.1]} ticks={leftTicks} interval={0} allowDataOverflow orientation="left" width={ML} axisLine={axisLine} tickLine={tickLine} tickSize={-5} tickMargin={13} tick={<LeftTick />} />
          <YAxis yAxisId="r" type="number" domain={[0, 3]} ticks={rightTicks} interval={0} allowDataOverflow orientation="right" width={MR} axisLine={axisLine} tickLine={tickLine} tickSize={-5} tickMargin={12} tick={<RightTick />} />
          <Scatter xAxisId="b" yAxisId="l" data={toXY(cfg.pts)} dataKey="y" shape={Dot} isAnimationActive={false} />
          <Line xAxisId="b" yAxisId="l" data={toXY(cfg.fg)} dataKey="y" type="linear" stroke={RED} strokeWidth={2} dot={false} activeDot={false} isAnimationActive={false} />
          <Line xAxisId="b" yAxisId="r" data={toXY(cfg.lai)} dataKey="y" type="linear" stroke={GREEN} strokeWidth={2} dot={false} activeDot={false} isAnimationActive={false} />
        </ComposedChart>
      </div>
      <div style={{ position: 'absolute', left: left + w / 2, top: top - 17, transform: 'translate(-50%,-50%)', fontFamily: FONT, fontWeight: 'bold', fontSize: 21, whiteSpace: 'nowrap', lineHeight: 1 }}>{cfg.title}</div>
      <div style={{ position: 'absolute', left: left + w / 2, top: top + h + 43, transform: 'translate(-50%,-50%)', fontFamily: FONT, fontSize: 21, whiteSpace: 'nowrap', lineHeight: 1 }}>Day of Year</div>
      <div style={{ position: 'absolute', left: left - 56, top: top + h / 2 + 4, transform: 'translate(-50%,-50%) rotate(-90deg)', fontFamily: FONT, fontSize: 22, whiteSpace: 'nowrap', lineHeight: 1 }}>
        LE<sub style={sub}>C</sub>/LE &amp; f<sub style={sub}>G</sub>
      </div>
      <div style={{ position: 'absolute', left: left + w + 47, top: top + h / 2 - 14, transform: 'translate(-50%,-50%) rotate(-90deg)', fontFamily: FONT, fontSize: 21, whiteSpace: 'nowrap', lineHeight: 1 }}>Daily LAI</div>
    </>
  );
}

function Legend() {
  const txt = { position: 'absolute' as const, fontFamily: FONT, fontSize: 19, lineHeight: 1, whiteSpace: 'nowrap' as const, transform: 'translateY(-50%)' };
  return (
    <div style={{ position: 'absolute', left: 591, top: 751, width: 142, height: 141, border: '2.5px solid #111', boxSizing: 'border-box', background: '#fff' }}>
      <svg width={137} height={136} style={{ position: 'absolute', left: 0, top: 0 }}>
        <circle cx={37} cy={30} r={6.5} fill="#5a4ff0" />
        <rect x={24} y={64} width={26} height={4} fill="#ee2020" />
        <rect x={24} y={98} width={26} height={4} fill="#8ccc4a" />
      </svg>
      <div style={{ ...txt, left: 54, top: 30 }}>LE<sub style={{ fontSize: '0.7em' }}>C</sub>/LE</div>
      <div style={{ ...txt, left: 62, top: 66 }}>f<sub style={{ fontSize: '0.7em' }}>G</sub></div>
      <div style={{ ...txt, left: 59, top: 101 }}>LAI</div>
    </div>
  );
}

export default function App() {
  return (
    <div style={{ position: 'absolute', left: 0, top: 0, width: 1319, height: 1712, background: '#fff', overflow: 'hidden' }}>
      {panels.map((p) => (
        <Panel key={p.title} cfg={p} />
      ))}
      <Legend />
    </div>
  );
}
